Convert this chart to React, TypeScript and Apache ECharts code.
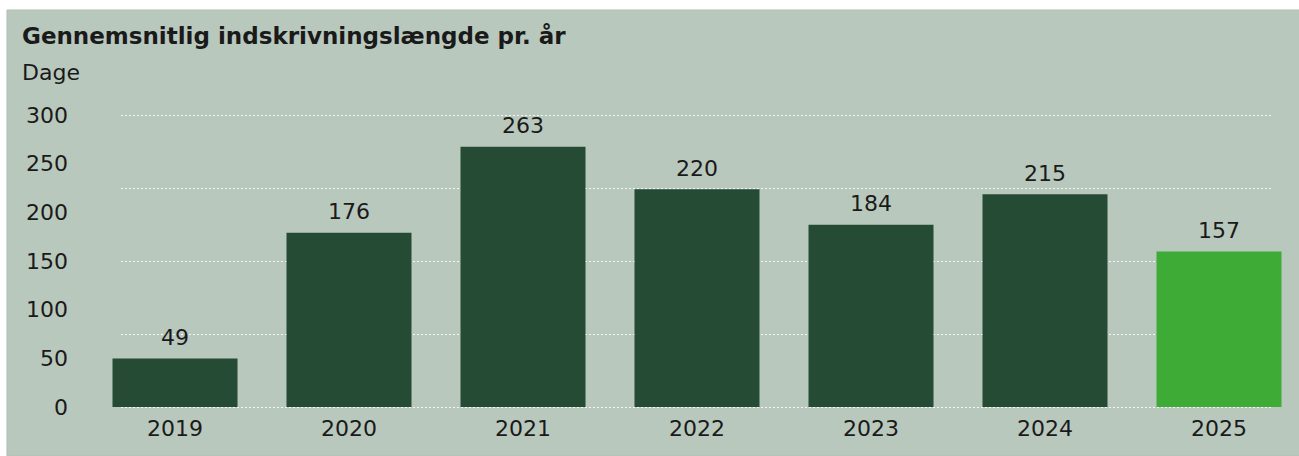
import React, { useEffect, useRef } from "react";
import * as echarts from "echarts";

const categories = ["2019", "2020", "2021", "2022", "2023", "2024", "2025"];
const values = [49, 176, 263, 220, 184, 215, 157];
const barColors = ["#254b35", "#254b35", "#254b35", "#254b35", "#254b35", "#254b35", "#3dab36"];
const yTickLabels = [0, 50, 100, 150, 200, 250, 300];
const gridLineValues = [0, 75, 150, 225, 300];

const FONT = "DejaVu Sans";
const TEXT = "#1a1a1a";
const CANVAS_W = 1320;

export default function App() {
  const ref = useRef<HTMLDivElement>(null);

  useEffect(() => {
    if (!ref.current) return;
    const chart = echarts.init(ref.current, undefined, { renderer: "svg" });
    const yMax = yTickLabels[yTickLabels.length - 1];
    const gridStep = gridLineValues[1] - gridLineValues[0];
    const labelStep = yTickLabels[1] - yTickLabels[0];

    chart.setOption({
      animation: false,
      backgroundColor: "#ffffff",
      textStyle: { fontFamily: FONT },
      graphic: [
        {
          type: "rect",
          z: -10,
          silent: true,
          shape: { x: 7, y: 10, width: 1320, height: 446 },
          style: { fill: "#b9c8bd", stroke: "#aebdb2", lineWidth: 1 },
        },
        {
          type: "text",
          x: 22,
          y: 36,
          style: {
            text: "Gennemsnitlig indskrivningslængde pr. år",
            font: `bold 23px "${FONT}"`,
            fill: TEXT,
            textVerticalAlign: "middle",
          },
        },
        {
          type: "text",
          x: 22,
          y: 72,
          style: {
            text: "Dage",
            font: `22px "${FONT}"`,
            fill: TEXT,
            textVerticalAlign: "middle",
          },
        },
      ],
      grid: [
        { left: 88, right: CANVAS_W - 1306, top: 110, height: 297, containLabel: false },
        { left: 121, right: CANVAS_W - 1273, top: 115, height: 292, containLabel: false },
      ],
      xAxis: [
        {
          type: "category",
          gridIndex: 0,
          data: categories,
          axisLine: { show: false },
          axisTick: { show: false },
          axisLabel: { color: TEXT, fontSize: 22, fontFamily: FONT, margin: 10 },
        },
        {
          type: "value",
          gridIndex: 1,
          show: false,
        },
      ],
      yAxis: [
        {
          type: "value",
          gridIndex: 0,
          min: 0,
          max: yMax,
          show: false,
          splitLine: { show: false },
        },
        {
          type: "value",
          gridIndex: 1,
          min: 0,
          max: yMax,
          interval: labelStep,
          axisLine: { show: false },
          axisTick: { show: false },
          splitLine: { show: false },
          axisLabel: { color: TEXT, fontSize: 22, fontFamily: FONT, margin: 53 },
        },
        {
          type: "value",
          gridIndex: 1,
          min: 0,
          max: yMax,
          interval: gridStep,
          axisLine: { show: false },
          axisTick: { show: false },
          axisLabel: { show: false },
          splitLine: {
            show: true,
            lineStyle: { color: "rgba(255,255,255,0.85)", type: [2, 2], width: 1 },
          },
        },
      ],
      series: [
        {
          type: "bar",
          xAxisIndex: 0,
          yAxisIndex: 0,
          barWidth: 125,
          z: 5,
          data: values.map((v, i) => ({ value: v, itemStyle: { color: barColors[i] } })),
          label: {
            show: true,
            position: "top",
            distance: 10,
            color: TEXT,
            fontSize: 22,
            fontFamily: FONT,
          },
        },
      ],
    });
    return () => chart.dispose();
  }, []);

  return (
    <div
      style={{
        position: "fixed",
        left: 0,
        top: 0,
        width: 1299,
        height: 456,
        overflow: "hidden",
        background: "#ffffff",
      }}
    >
      <div ref={ref} style={{ width: CANVAS_W, height: 456 }} />
    </div>
  );
}
